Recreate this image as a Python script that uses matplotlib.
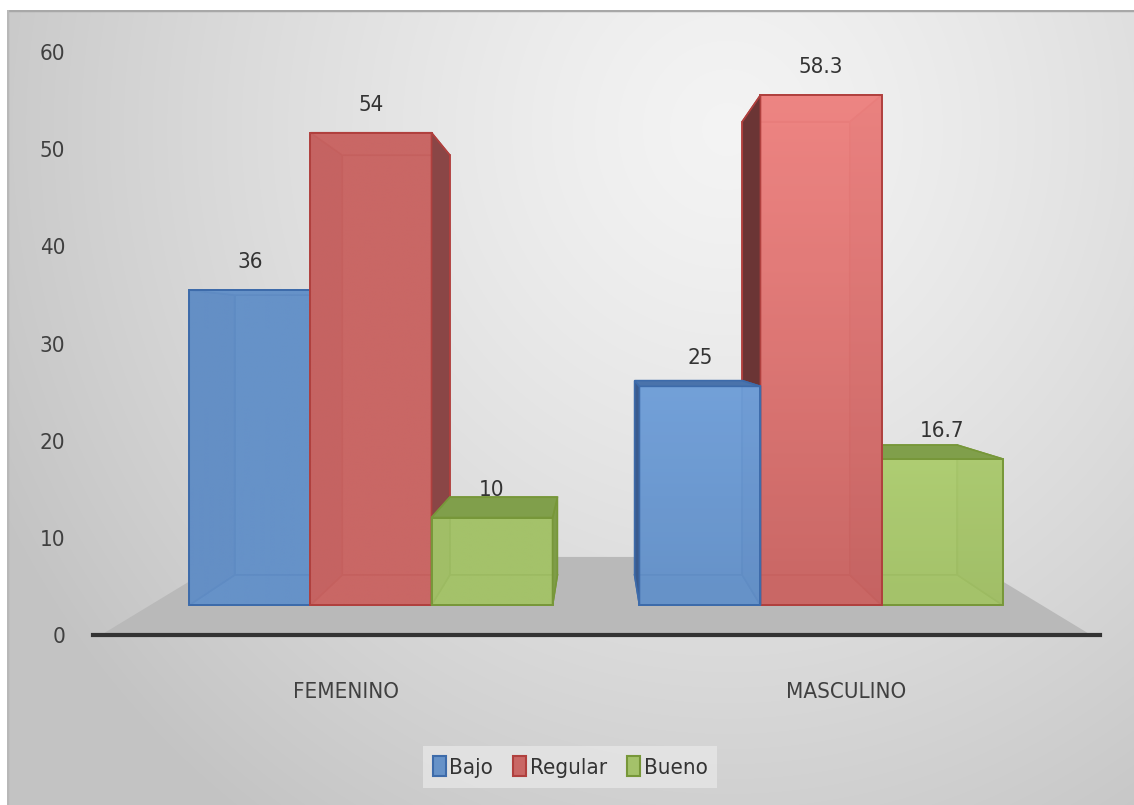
import numpy as np
import matplotlib.pyplot as plt
from matplotlib.patches import Polygon, Patch, Rectangle
from matplotlib.colors import to_rgb
from matplotlib.transforms import Affine2D

# data
categories = ['FEMENINO', 'MASCULINO']
series = ['Bajo', 'Regular', 'Bueno']
bajo = [36, 25]
regular = [54, 58.3]
bueno = [10, 16.7]
value_labels = [['36', '25'], ['54', '58.3'], ['10', '16.7']]
y_ticks = [0, 10, 20, 30, 40, 50, 60]

# style: face, hidden side, right side, left side, top, edge
styles = [
    ('#6692C8', '#5A82BA', '#3F6398', '#3A5B8E', '#4A73AB', '#3D6BAA'),
    ('#C96765', '#B35455', '#8A4646', '#6B3535', '#A24E4C', '#B0403E'),
    ('#A4C26A', '#93AF5C', '#7E9C48', '#728F40', '#809F4B', '#779739'),
]

plt.rcParams['font.family'] = ['DejaVu Sans']
plt.rcParams['font.stretch'] = 'condensed'

VP = (0.5, 30.9)        # vanishing point (data coords)
F_FRONT, F_BACK, F_FLOOR = 0.9, 0.8, 0.74
W = 0.269


def proj(x, y, f):
    return (VP[0] + f * (x - VP[0]), VP[1] + f * (y - VP[1]))


fig = plt.figure(figsize=(11.34, 8.05), dpi=100)
fig.patch.set_facecolor('white')

# background gradient
bg = fig.add_axes([7 / 1134, 0, 1 - 7 / 1134, (805 - 10) / 805])
yy, xx = np.mgrid[0:795, 0:1127]
d = np.sqrt(((xx - 720) / 1.0) ** 2 + ((yy - 120) / 1.05) ** 2)
t = np.clip(d / 820, 0, 1) ** 1.3
g = 0.955 - 0.19 * t
bg.imshow(np.dstack([g, g, g]), aspect='auto', extent=[0, 1, 0, 1])
bg.set_xlim(0, 1)
bg.set_ylim(0, 1)
bg.axis('off')
bg.plot([0, 1], [1, 1], color='#A8A8A8', lw=2.5)
bg.plot([0, 0], [0, 1], color='#B8B8B8', lw=2.5)

ax = fig.add_axes([93 / 1134, (805 - 635) / 805, 1007 / 1134, 583 / 805])
ax.set_facecolor('none')

front_tr = Affine2D().translate(-VP[0], -VP[1]).scale(F_FRONT).translate(*VP) + ax.transData
back_tr = Affine2D().translate(-VP[0], -VP[1]).scale(F_BACK).translate(*VP) + ax.transData

# floor
floor = [proj(-0.49, 0, 1), proj(1.49, 0, 1), proj(1.49, 0, F_FLOOR), proj(-0.49, 0, F_FLOOR)]
ax.add_patch(Polygon(floor, closed=True, facecolor='#B9B9B9', edgecolor='none', zorder=1))

values = [bajo, regular, bueno]
bars = []
for i in range(3):
    for j in range(2):
        xc = j + (i - 1) * W
        bars.append((abs(xc - VP[0]), i, j, xc))
bars.sort(reverse=True)

z = 2
for _, i, j, xc in bars:
    v = values[i][j]
    face, hid, rside, lside, top, edge = styles[i]
    x0, x1 = xc - W / 2, xc + W / 2

    def quad(pa, pb):
        return [proj(*pa, F_FRONT), proj(*pb, F_FRONT), proj(*pb, F_BACK), proj(*pa, F_BACK)]

    ax.bar([xc], [v], W, transform=back_tr, color=face, edgecolor=edge, lw=1.2, zorder=z)
    ax.add_patch(Polygon(quad((x0, 0), (x1, 0)), facecolor=face, edgecolor=edge, lw=1.2, zorder=z + 0.1))
    left = quad((x0, 0), (x0, v))
    right = quad((x1, 0), (x1, v))
    topf = quad((x0, v), (x1, v))
    if xc < VP[0]:
        hidden_side, vis_side, vis_col = left, right, rside
    else:
        hidden_side, vis_side, vis_col = right, left, lside
    ax.add_patch(Polygon(hidden_side, facecolor=hid, edgecolor=edge, lw=1.2, zorder=z + 0.2))
    top_visible = v < VP[1]
    if not top_visible:
        ax.add_patch(Polygon(topf, facecolor=face, edgecolor=edge, lw=1.2, zorder=z + 0.2))

    # front face, brighter towards the top on the right-hand group
    fx0, fy0 = proj(x0, 0, F_FRONT)
    fx1, fy1 = proj(x1, v, F_FRONT)
    base = np.array(to_rgb(face))
    k_top = 0.22 * (v / 60) if j == 1 else 0.0
    ramp = np.linspace(k_top, 0.0, 64)[:, None, None]
    bright = np.clip(base * (1 + ramp), 0, 1)
    grad = bright + (1 - bright) * (ramp * 0.5)
    grad = np.repeat(grad, 2, axis=1)
    clip = Rectangle((fx0, fy0), fx1 - fx0, fy1 - fy0, transform=ax.transData)
    im = ax.imshow(grad, extent=[fx0, fx1, fy0, fy1], aspect='auto', alpha=0.84,
                   zorder=z + 0.5, interpolation='bilinear', origin='upper')
    im.set_clip_path(clip)
    ax.bar([xc], [v], W, transform=front_tr, fill=False, edgecolor=edge, lw=1.4, zorder=z + 0.55)
    ax.add_patch(Polygon(vis_side, facecolor=vis_col, edgecolor=edge, lw=1.2, zorder=z + 0.6))
    if top_visible:
        ax.add_patch(Polygon(topf, facecolor=top, edgecolor=edge, lw=1.2, zorder=z + 0.6))
    ax.annotate(value_labels[i][j], proj(xc, v, F_FRONT), xytext=(0, 28), textcoords='offset pixels',
                ha='center', va='center', fontsize=16, color='#333333', zorder=50,
                annotation_clip=False)
    z += 1

ax.set_xlim(-0.506, 1.508)
ax.set_ylim(0, 60)

for s in ['top', 'right', 'left']:
    ax.spines[s].set_visible(False)
ax.spines['bottom'].set_linewidth(3)
ax.spines['bottom'].set_color('#333333')
ax.spines['bottom'].set_zorder(40)

ax.set_yticks(y_ticks)
ax.set_yticklabels([str(t) for t in y_ticks])
ax.set_xticks([0, 1])
ax.set_xticklabels(categories)
ax.tick_params(axis='y', length=0, pad=20, labelsize=16, labelcolor='#404040')
ax.tick_params(axis='x', length=0, pad=34, labelsize=16, labelcolor='#404040')

handles = [Patch(facecolor=styles[k][0], edgecolor=styles[k][5], lw=1.5) for k in range(3)]
fig.legend(handles, series, loc='center', bbox_to_anchor=(570 / 1134, 1 - 767 / 805), ncol=3,
           frameon=True, facecolor='#E6E6E6', edgecolor='none', framealpha=0.8, fontsize=16,
           handlelength=0.6, handleheight=1.0, handletextpad=0.15, columnspacing=0.9,
           labelcolor='#333333', fancybox=False, borderpad=0.45)

plt.savefig('out.png', dpi=100)
plt.close()
